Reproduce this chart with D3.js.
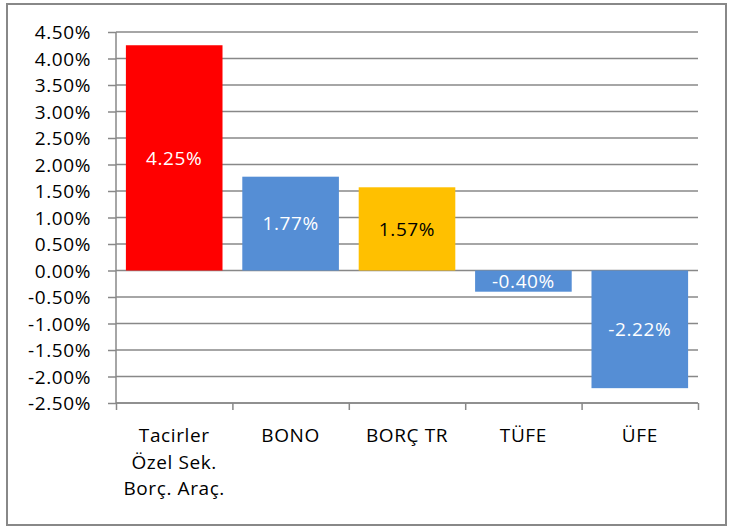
<!DOCTYPE html>
<html>
<head>
<meta charset="utf-8">
<script src="https://cdn.jsdelivr.net/npm/d3@7"></script>
<style>
  body { margin: 0; background: #fff; }
  text { font-family: "Open Sans", sans-serif; letter-spacing: 0.6px; }
</style>
</head>
<body>
<div id="chart"></div>
<script>
// chart data
const categories = [["Tacirler", "Özel Sek.", "Borç. Araç."], ["BONO"], ["BORÇ TR"], ["TÜFE"], ["ÜFE"]];
const values = [4.25, 1.77, 1.57, -0.40, -2.22];
const barColors = ["#ff0000", "#558ed5", "#ffc000", "#558ed5", "#558ed5"];
const labelColors = ["#fff", "#fff", "#000", "#fff", "#fff"];
const yTicks = [4.5, 4, 3.5, 3, 2.5, 2, 1.5, 1, 0.5, 0, -0.5, -1, -1.5, -2, -2.5];

const width = 734, height = 529;
const plotLeft = 116, plotRight = 698, plotTop = 32, plotBottom = 403;

const svg = d3.select("#chart").append("svg")
  .attr("width", width)
  .attr("height", height);

svg.append("rect")
  .attr("x", 7).attr("y", 4)
  .attr("width", 719).attr("height", 521)
  .attr("fill", "#fff")
  .attr("stroke", "#888").attr("stroke-width", 2);

const x = d3.scaleBand()
  .domain(d3.range(values.length))
  .range([plotLeft, plotRight])
  .paddingInner(0.17)
  .paddingOuter(0.085);

const y = d3.scaleLinear()
  .domain([-2.5, 4.5])
  .range([plotBottom, plotTop]);

// gridlines
svg.append("g")
  .selectAll("line")
  .data(yTicks)
  .enter()
  .append("line")
  .attr("x1", plotLeft).attr("x2", plotRight)
  .attr("y1", d => y(d)).attr("y2", d => y(d))
  .attr("stroke", "#888").attr("stroke-width", 1.5);

// bars
svg.append("g")
  .selectAll("rect")
  .data(values)
  .enter()
  .append("rect")
  .attr("x", (d, i) => x(i))
  .attr("width", x.bandwidth())
  .attr("y", d => y(Math.max(0, d)))
  .attr("height", d => Math.abs(y(d) - y(0)))
  .attr("fill", (d, i) => barColors[i]);

// y axis
const yAxis = d3.axisLeft(y)
  .tickValues(yTicks)
  .tickSize(8)
  .tickPadding(17)
  .tickFormat(d => d.toFixed(2) + "%");

const gy = svg.append("g")
  .attr("transform", `translate(${plotLeft},0)`)
  .call(yAxis);
gy.selectAll("line, path").attr("stroke", "#888").attr("stroke-width", 1.5);
gy.select("path").attr("d", `M0,${plotBottom}V${plotTop}`);
gy.selectAll("text")
  .style("font-size", "19px")
  .attr("fill", "#000")
  .attr("dy", "0.35em");

// x axis at the bottom, ticks between categories
const xEdge = d3.scaleLinear().domain([0, values.length]).range([plotLeft, plotRight]);
const gx = svg.append("g")
  .attr("transform", `translate(0,${plotBottom})`)
  .call(d3.axisBottom(xEdge).tickValues(d3.range(values.length + 1)).tickSize(7).tickFormat(""));
gx.selectAll("line, path").attr("stroke", "#888").attr("stroke-width", 1.5);
gx.select("path").attr("d", `M${plotLeft},0H${plotRight}`);

// category labels
const cat = svg.append("g")
  .selectAll("text")
  .data(categories)
  .enter()
  .append("text")
  .attr("x", (d, i) => x(i) + x.bandwidth() / 2)
  .attr("y", 442)
  .attr("text-anchor", "middle")
  .style("font-size", "19px")
  .attr("fill", "#000");
cat.selectAll("tspan")
  .data(d => d)
  .enter()
  .append("tspan")
  .attr("x", function () { return this.parentNode.getAttribute("x"); })
  .attr("dy", (d, i) => i === 0 ? 0 : 26.5)
  .text(d => d);

// value labels
svg.append("g")
  .selectAll("text")
  .data(values)
  .enter()
  .append("text")
  .attr("x", (d, i) => x(i) + x.bandwidth() / 2)
  .attr("y", d => (y(d) + y(0)) / 2)
  .attr("dy", "0.36em")
  .attr("text-anchor", "middle")
  .style("font-size", "19px")
  .attr("fill", (d, i) => labelColors[i])
  .text(d => d.toFixed(2) + "%");
</script>
</body>
</html>
